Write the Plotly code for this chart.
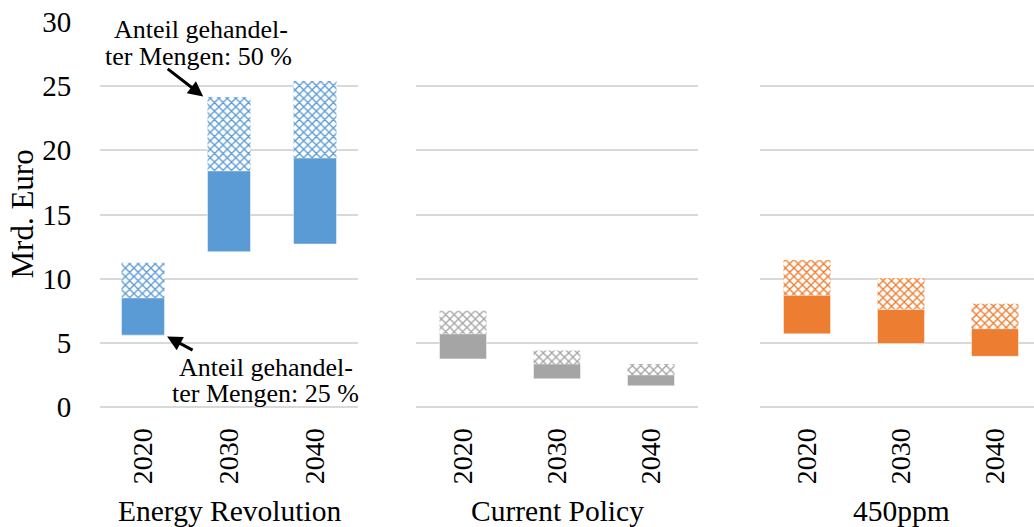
import plotly.graph_objects as go

# ---- data (Mrd. Euro) ----
years = ["2020", "2030", "2040"]
scenarios = ["Energy Revolution", "Current Policy", "450ppm"]
colors = ["#5B9BD5", "#A5A5A5", "#ED7D31"]

# lower bound, value at 25 % traded share, value at 50 % traded share
er_low = [5.6, 12.1, 12.7]
er_25 = [8.5, 18.4, 19.4]
er_50 = [11.25, 24.15, 25.4]

cp_low = [3.75, 2.2, 1.65]
cp_25 = [5.7, 3.35, 2.5]
cp_50 = [7.5, 4.4, 3.35]

pp_low = [5.7, 4.95, 3.95]
pp_25 = [8.7, 7.6, 6.1]
pp_50 = [11.45, 10.05, 8.05]

lows = [er_low, cp_low, pp_low]
mids = [er_25, cp_25, pp_25]
highs = [er_50, cp_50, pp_50]

y_ticks = [0, 5, 10, 15, 20, 25, 30]

FONT = "Liberation Serif"
W, H = 1034, 527
ML, MR, MT, MB = 100, 0, 22, 120
PW = W - ML - MR

fig = go.Figure()

xaxes = ["x", "x2", "x3"]
yaxes = ["y", "y2", "y3"]
for i in range(3):
    solid_h = [m - l for m, l in zip(mids[i], lows[i])]
    pat_h = [h - m for h, m in zip(highs[i], mids[i])]
    fig.add_trace(go.Bar(
        x=years, y=solid_h, base=lows[i], width=0.5,
        marker=dict(color=colors[i], line=dict(width=0.8, color="rgba(255,255,255,0.6)")),
        xaxis=xaxes[i], yaxis=yaxes[i], showlegend=False,
        hoverinfo="skip"))
    fig.add_trace(go.Bar(
        x=years, y=pat_h, base=mids[i], width=0.5,
        marker=dict(color="white", line=dict(width=0),
                    pattern=dict(shape="x", fgcolor=colors[i], bgcolor="white",
                                 size=6, solidity=0.4, fillmode="replace")),
        xaxis=xaxes[i], yaxis=yaxes[i], showlegend=False,
        hoverinfo="skip"))

# domains in pixels
doms = [(0, 258), (316, 598), (660, 934)]
ranges = [[-0.5, 2.5], [-0.5, 2.5], [-0.5, 2.5 - 8 / 94]]

layout = dict(
    width=W, height=H,
    margin=dict(l=ML, r=MR, t=MT, b=MB),
    barmode="overlay",
    plot_bgcolor="white", paper_bgcolor="white",
    font=dict(family=FONT, color="black", size=26),
    showlegend=False,
)
for i in range(3):
    suf = "" if i == 0 else str(i + 1)
    layout["xaxis" + suf] = dict(
        domain=[doms[i][0] / PW, doms[i][1] / PW],
        type="category", range=ranges[i],
        tickangle=-90, tickfont=dict(size=28, family=FONT, color="black"),
        ticks="outside", ticklen=9, tickcolor="rgba(0,0,0,0)",
        showgrid=False, showline=False, zeroline=False,
        anchor="y" + suf, fixedrange=True,
    )
    layout["yaxis" + suf] = dict(
        range=[0, 30], tickvals=y_ticks,
        showticklabels=(i == 0),
        tickfont=dict(size=29, family=FONT, color="black"),
        ticks="outside", ticklen=22, tickcolor="rgba(0,0,0,0)",
        showgrid=True, gridcolor="#D9D9D9", gridwidth=2,
        zeroline=True, zerolinecolor="#D9D9D9", zerolinewidth=2,
        showline=False, anchor="x" + suf, fixedrange=True,
    )
fig.update_layout(**layout)

annotations = []
# scenario labels under each group
for i in range(3):
    annotations.append(dict(
        x=1, y=-0.27, xref=xaxes[i], yref="paper",
        text=scenarios[i], showarrow=False,
        font=dict(size=29.5, family=FONT, color="black"), xanchor="center", yanchor="middle"))

# y axis title
annotations.append(dict(
    x=(22 - ML) / PW, y=0.5, xref="paper", yref="paper",
    text="Mrd. Euro", textangle=-90, showarrow=False,
    font=dict(size=31, family=FONT, color="black"), xanchor="center", yanchor="middle"))

# explanatory labels (one annotation per line for tight line spacing)
note_font = dict(size=26, family=FONT, color="black")
for txt, xv, yv in [("Anteil gehandel-", 0.68, 29.4),
                    ("ter Mengen: 50 %", 0.65, 27.3),
                    ("Anteil gehandel-", 1.425, 3.1),
                    ("ter Mengen: 25 %", 1.42, 1.05)]:
    annotations.append(dict(
        x=xv, y=yv, xref="x", yref="y", text=txt, showarrow=False,
        font=note_font, xanchor="center", yanchor="middle"))

# arrows
arrow_common = dict(xref="x", yref="y", text="", showarrow=True, font=dict(size=1),
                    borderpad=0, arrowhead=2, arrowsize=1, arrowwidth=3, arrowcolor="black")
annotations.append(dict(x=0.70, y=24.2, ax=-36, ay=-28, **arrow_common))
annotations.append(dict(x=0.28, y=5.5, ax=26, ay=14, **arrow_common))

fig.update_layout(annotations=annotations)

fig.write_html("out.html", config={"displayModeBar": False},
               post_script="document.body.style.margin='0';document.body.style.overflow='hidden';")
